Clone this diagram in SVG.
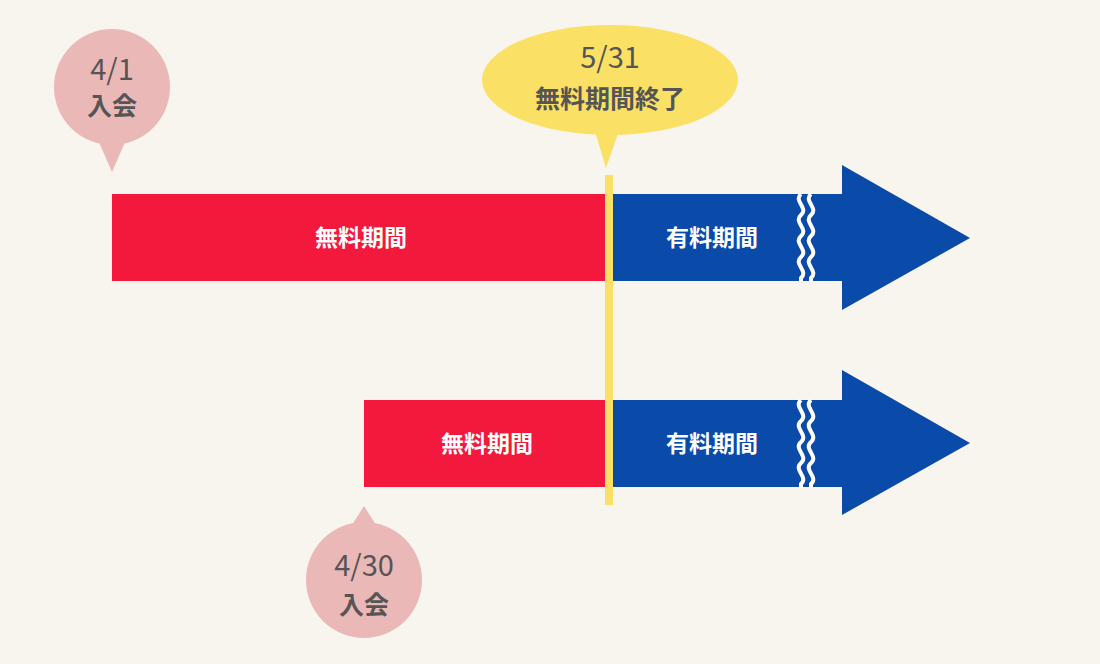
<svg xmlns="http://www.w3.org/2000/svg" width="1100" height="664" viewBox="0 0 1100 664">
<style>
text{font-family:"Noto Sans CJK JP","Noto Sans",sans-serif;font-weight:700;text-anchor:middle}
.w{fill:#fff;font-size:23px}
.g{fill:#555;font-size:25px}
.d{fill:#555;font-size:29px;font-weight:400}
.red{fill:#f2193c}.blue{fill:#0a4aa8}
.wave{fill:none;stroke:#fff;stroke-width:4}
</style>
<defs>
<path id="wv" d="M0,0 c-8,7 8,14 0,21 c-8,7 8,14 0,21 c-8,7 8,14 0,21 c-8,7 8,14 0,21 l0,4"/>
</defs>
<rect width="1100" height="664" fill="#f8f5ef"/>
<g id="bar1">
<rect class="red" x="112" y="194" width="498" height="87"/>
<rect class="blue" x="610" y="194" width="233" height="87"/>
<polygon class="blue" points="842,165 970,238 842,310"/>
<use href="#wv" x="801" y="194" class="wave"/>
<use href="#wv" x="811" y="194" class="wave"/>
<text class="w" x="361" y="246">無料期間</text>
<text class="w" x="712" y="246">有料期間</text>
</g>
<g id="bar2">
<rect class="red" x="364" y="400" width="246" height="87"/>
<rect class="blue" x="610" y="400" width="233" height="87"/>
<polygon class="blue" points="842,370 970,443 842,515"/>
<use href="#wv" x="801" y="400" class="wave"/>
<use href="#wv" x="811" y="400" class="wave"/>
<text class="w" x="487" y="452">無料期間</text>
<text class="w" x="712" y="452">有料期間</text>
</g>
<g id="connectors">
<rect x="605" y="175" width="8" height="330" fill="#fbe066"/>
</g>
<g id="bubble1">
<circle cx="112" cy="87" r="58" fill="#ebb8b8"/>
<polygon points="98,140 126,140 112,172" fill="#ebb8b8"/>
<text class="d" x="112" y="80">4/1</text>
<text class="g" x="112" y="115">入会</text>
</g>
<g id="bubble2">
<ellipse cx="610" cy="80" rx="128" ry="55" fill="#fbe066"/>
<polygon points="594,128 620,128 606,168" fill="#fbe066"/>
<text class="d" x="610" y="68">5/31</text>
<text class="g" x="610" y="108">無料期間終了</text>
</g>
<g id="bubble3">
<circle cx="364" cy="580" r="58" fill="#ebb8b8"/>
<polygon points="350,528 378,528 364,506" fill="#ebb8b8"/>
<text class="d" x="364" y="576">4/30</text>
<text class="g" x="364" y="614">入会</text>
</g>
</svg>
